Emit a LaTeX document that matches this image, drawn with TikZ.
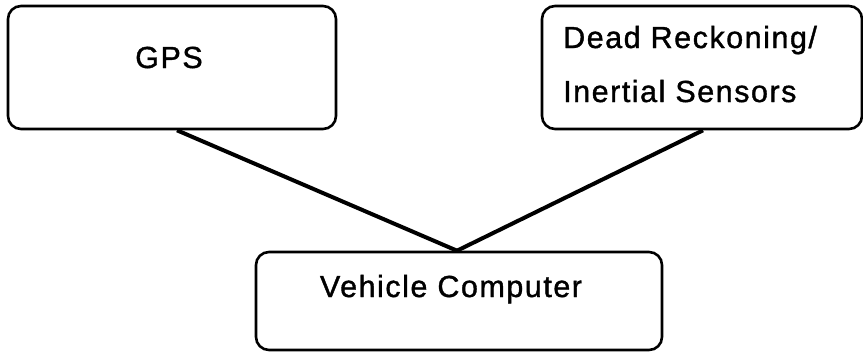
\documentclass[tikz,border=0pt]{standalone}
\usepackage{fontspec}
\setmainfont{Liberation Sans}[LetterSpace=5, FakeBold=1.2]
\begin{document}
\begin{tikzpicture}[x=1pt,y=-1pt,
  blockbox/.style={draw, line width=2.6pt, rounded corners=13pt, inner sep=0pt, minimum width=#1},
  caption/.style={inner sep=0pt, font=\fontsize{30.5}{36}\selectfont},
  wire/.style={line width=4pt}]
  \useasboundingbox (0,0) rectangle (863,354);

  % the three units
  \node[blockbox=328pt, minimum height=123pt] (gps) at (172,67.5) {};
  \node[blockbox=320pt, minimum height=123pt] (dr) at (702,67.5) {};
  \node[blockbox=406pt, minimum height=98pt] (vc) at (459,301) {};

  % labels
  \node[caption, anchor=base] (gpstext) at (169,68) {GPS};
  \node[caption, anchor=base west] (drtext1) at (563,48) {Dead Reckoning/};
  \node[caption, anchor=base west] (drtext2) at (563,102) {Inertial Sensors};
  \node[caption, anchor=base] (vctext) at (451,297) {Vehicle Computer};

  % links into the vehicle computer
  \coordinate (meet) at ([xshift=-2pt]vc.north);
  \draw[wire] ([xshift=5pt]gps.south) -- (meet);
  \draw[wire] ([xshift=1pt]dr.south) -- (meet);
\end{tikzpicture}
\end{document}
